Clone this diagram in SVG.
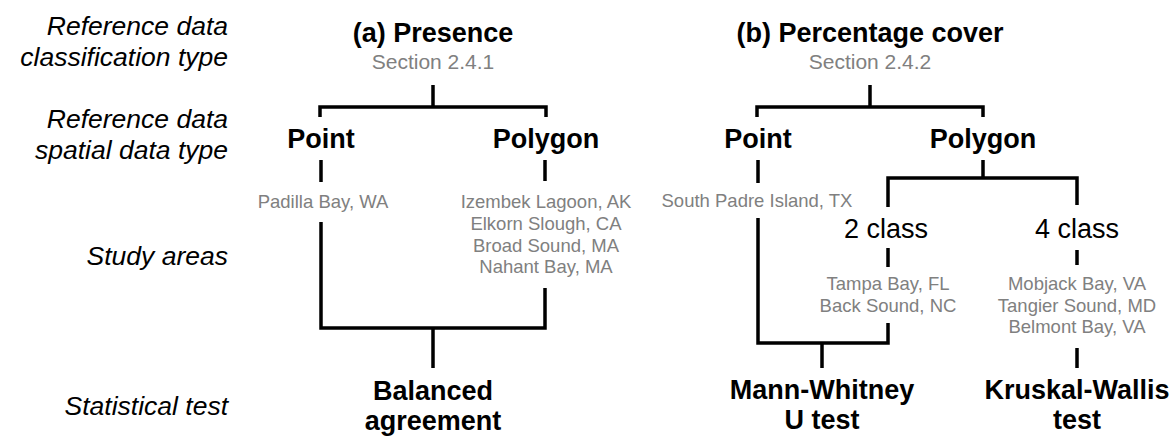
<svg xmlns="http://www.w3.org/2000/svg" width="1175" height="438" viewBox="0 0 1175 438">
<style>
.lab{font-family:"Liberation Sans",Arial,sans-serif;font-style:italic;font-size:26.5px;fill:#000;text-anchor:end}
.b{font-family:"Liberation Sans",Arial,sans-serif;font-weight:bold;font-size:27px;fill:#000;text-anchor:middle}
.r{font-family:"Liberation Sans",Arial,sans-serif;font-size:27px;fill:#000;text-anchor:middle}
.sec{font-family:"Liberation Sans",Arial,sans-serif;font-size:21px;fill:#808080;text-anchor:middle}
.g{font-family:"Liberation Sans",Arial,sans-serif;font-size:18.5px;fill:#808080;text-anchor:middle}
.c{fill:none;stroke:#000;stroke-width:3.5;stroke-linecap:butt;stroke-linejoin:miter}
</style>
<rect width="1175" height="438" fill="#fff"/>
<g id="row-labels">
<text class="lab" x="228" y="35">Reference data</text>
<text class="lab" x="228" y="66">classification type</text>
<text class="lab" x="228" y="128">Reference data</text>
<text class="lab" x="228" y="159">spatial data type</text>
<text class="lab" x="228" y="265">Study areas</text>
<text class="lab" x="228" y="415">Statistical test</text>
</g>
<g id="connectors">
<path class="c" d="M433,85 V107 M320,117 V107 H546 V117"/>
<path class="c" d="M321,160 V182 M321,222 V328 H545 V288 M545,160 V181 M433,328 V368"/>
<path class="c" d="M870,85 V107 M757,117 V107 H983 V117"/>
<path class="c" d="M758,160 V183 M758,218 V343 H888 V323 M822,343 V368"/>
<path class="c" d="M983,160 V178 M888,207 V178 H1077 V205"/>
<path class="c" d="M888,248 V267 M1077,250 V265 M1077,348 V368"/>
</g>
<g id="node-a-presence">
<text class="b" x="433" y="42">(a) Presence</text>
<text class="sec" x="433" y="69">Section 2.4.1</text>
</g>
<g id="node-a-point">
<text class="b" x="321" y="148">Point</text>
</g>
<g id="node-a-polygon">
<text class="b" x="546" y="148">Polygon</text>
</g>
<g id="node-a-point-areas">
<text class="g" x="323" y="208">Padilla Bay, WA</text>
</g>
<g id="node-a-polygon-areas">
<text class="g" x="546" y="208">Izembek Lagoon, AK</text>
<text class="g" x="546" y="230">Elkorn Slough, CA</text>
<text class="g" x="546" y="252">Broad Sound, MA</text>
<text class="g" x="546" y="273">Nahant Bay, MA</text>
</g>
<g id="node-a-test">
<text class="b" x="433" y="400">Balanced</text>
<text class="b" x="433" y="430">agreement</text>
</g>
<g id="node-b-cover">
<text class="b" x="870" y="42">(b) Percentage cover</text>
<text class="sec" x="870" y="69">Section 2.4.2</text>
</g>
<g id="node-b-point">
<text class="b" x="758" y="148">Point</text>
</g>
<g id="node-b-polygon">
<text class="b" x="983" y="148">Polygon</text>
</g>
<g id="node-b-point-areas">
<text class="g" x="757" y="207">South Padre Island, TX</text>
</g>
<g id="node-b-2class">
<text class="r" x="886" y="238">2 class</text>
</g>
<g id="node-b-4class">
<text class="r" x="1077" y="238">4 class</text>
</g>
<g id="node-b-2class-areas">
<text class="g" x="888" y="290">Tampa Bay, FL</text>
<text class="g" x="888" y="312">Back Sound, NC</text>
</g>
<g id="node-b-4class-areas">
<text class="g" x="1077" y="290">Mobjack Bay, VA</text>
<text class="g" x="1077" y="312">Tangier Sound, MD</text>
<text class="g" x="1077" y="333">Belmont Bay, VA</text>
</g>
<g id="node-b-mw">
<text class="b" x="822" y="399">Mann-Whitney</text>
<text class="b" x="822" y="429">U test</text>
</g>
<g id="node-b-kw">
<text class="b" x="1077" y="399">Kruskal-Wallis</text>
<text class="b" x="1077" y="429">test</text>
</g>
</svg>
